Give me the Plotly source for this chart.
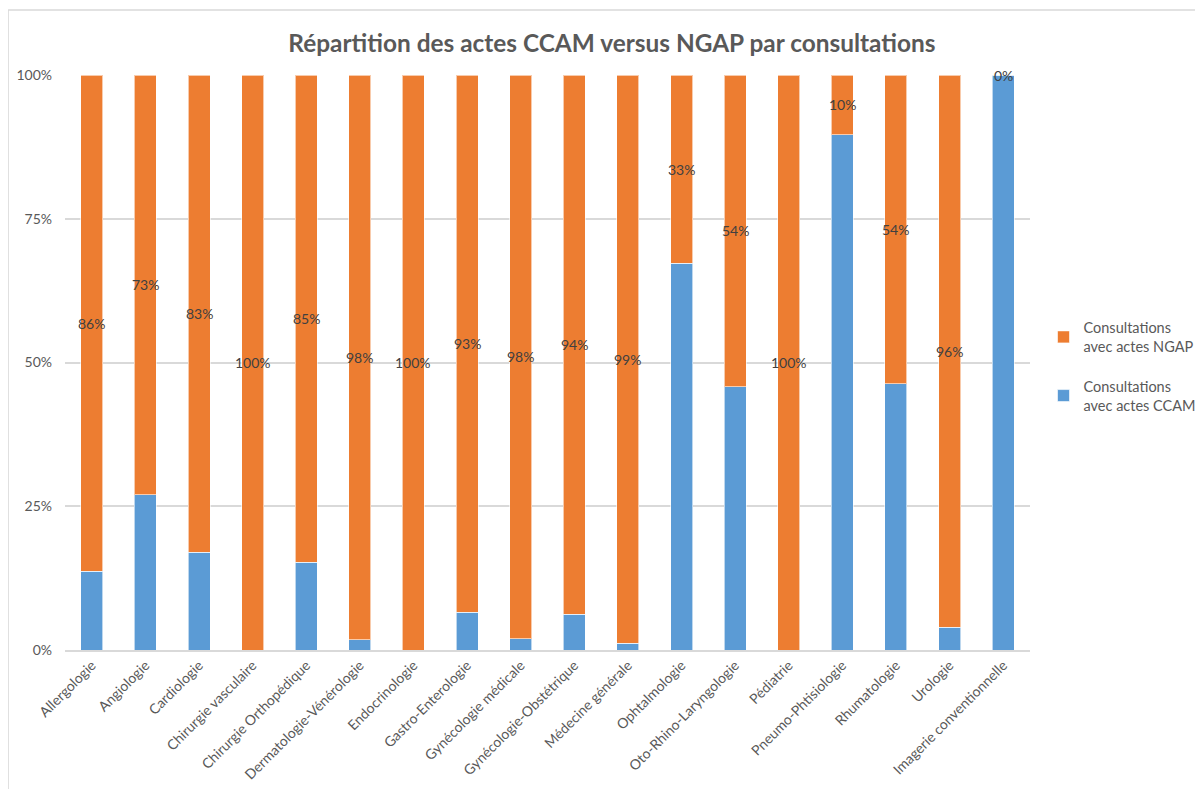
import plotly.graph_objects as go

categories = [
    "Allergologie", "Angiologie", "Cardiologie", "Chirurgie vasculaire",
    "Chirurgie Orthopédique", "Dermatologie-Vénérologie", "Endocrinologie",
    "Gastro-Enterologie", "Gynécologie médicale", "Gynécologie-Obstétrique",
    "Médecine générale", "Ophtalmologie", "Oto-Rhino-Laryngologie", "Pédiatrie",
    "Pneumo-Phtisiologie", "Rhumatologie", "Urologie", "Imagerie conventionnelle",
]
ccam = [0.137, 0.27, 0.17, 0.0, 0.153, 0.018, 0.0, 0.066, 0.02, 0.062,
        0.012, 0.673, 0.458, 0.0, 0.896, 0.463, 0.04, 1.0]
ngap = [0.863, 0.73, 0.83, 1.0, 0.847, 0.982, 1.0, 0.934, 0.98, 0.938,
        0.988, 0.327, 0.542, 1.0, 0.104, 0.537, 0.96, 0.0]
y_ticks = [0, 0.25, 0.5, 0.75, 1.0]
y_tick_labels = ["0%", "25%", "50%", "75%", "100%"]

FONT = "Lato, 'Open Sans', sans-serif"
ORANGE = "#ED7D31"
BLUE = "#5B9BD5"

fig = go.Figure()
fig.add_trace(go.Bar(
    x=categories, y=ccam, name="Consultations<br>avec actes CCAM",
    marker=dict(color=BLUE, line=dict(color="rgba(255,255,255,0.6)", width=1)),
    legendgroup="ccam", legendrank=2,
))
fig.add_trace(go.Bar(
    x=categories, y=ngap, name="Consultations<br>avec actes NGAP",
    marker=dict(color=ORANGE, line=dict(color="rgba(255,255,255,0.6)", width=1)),
    legendgroup="ngap", legendrank=1,
))

for c, b, o in zip(categories, ccam, ngap):
    fig.add_annotation(
        x=c, y=b + o / 2, text=f"{round(o * 100)}%", showarrow=False,
        font=dict(family=FONT, size=14, color="#404040"),
        xref="x", yref="y",
    )

# chart-area border (left and top visible in reference)
fig.add_shape(type="line", xref="paper", yref="paper",
              x0=-0.059, x1=-0.059, y0=-0.25, y1=1.113,
              line=dict(color="#d9d9d9", width=1.5))
fig.add_shape(type="line", xref="paper", yref="paper",
              x0=-0.059, x1=1.2, y0=1.113, y1=1.113,
              line=dict(color="#d9d9d9", width=1.5))

fig.update_layout(
    barmode="stack",
    bargap=0.59,
    width=1195, height=781,
    margin=dict(l=57, r=173, t=67, b=139, autoexpand=False),
    plot_bgcolor="white", paper_bgcolor="white",
    title=dict(
        text="<b>Répartition des actes CCAM versus NGAP par consultations</b>",
        x=0.5054, xanchor="center", y=0.954, yanchor="middle",
        font=dict(family=FONT, size=24.4, color="#595959"),
    ),
    legend=dict(
        x=1.014, xanchor="left", y=0.493, yanchor="middle",
        font=dict(family=FONT, size=14.5, color="#595959"),
        tracegroupgap=18, itemwidth=30, traceorder="grouped",
        bgcolor="rgba(0,0,0,0)",
    ),
    font=dict(family=FONT, color="#595959"),
)
fig.update_xaxes(
    tickangle=-45, tickfont=dict(family=FONT, size=14, color="#595959"),
    showline=True, linecolor="#d9d9d9", linewidth=1.5, ticks="",
    showgrid=False, automargin=False,
)
fig.update_yaxes(
    range=[0, 1], tickvals=y_ticks, ticktext=y_tick_labels,
    tickfont=dict(family=FONT, size=14, color="#595959"),
    showgrid=True, gridcolor="#d9d9d9", gridwidth=1.5,
    zeroline=False, showline=False, ticks="", ticklabelstandoff=12,
    automargin=False,
)

fig.write_html("out.html")
